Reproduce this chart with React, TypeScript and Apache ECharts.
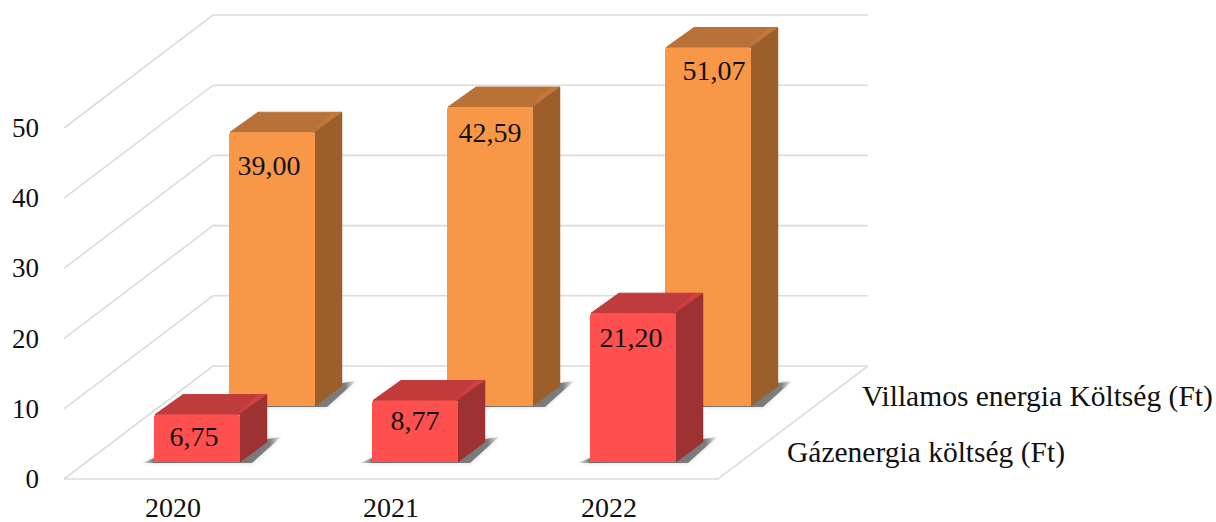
import React, { useEffect, useRef } from "react";
import * as echarts from "echarts";

const categories = ["2020", "2021", "2022"];
const gasCost = [6.75, 8.77, 21.2];
const electricCost = [39.0, 42.59, 51.07];
const yTicks = [0, 10, 20, 30, 40, 50];
const depthLabels = ["Villamos energia Költség (Ft)", "Gázenergia költség (Ft)"];

const SERIF = '"Liberation Serif", "Times New Roman", serif';
const GRID_COLOR = "#DCDCDC";
const TEXT = "#111111";
const BACK = { dx: 150, dy: -113 };
const BAR_W = 86;
const BAR_DX = 27;
const BAR_DY = -20;

type Row = {
  shift: [number, number];
  front: string; top: string; side: string; edge: string;
  nudge: [number, number][];
};
const redRow: Row = {
  shift: [24, -17], front: "#FF5050", top: "#C03B3B", side: "#9E3131", edge: "#D64444",
  nudge: [[-3, 22], [0, 20], [-2, 24]],
};
const orangeRow: Row = {
  shift: [99, -73], front: "#F99748", top: "#B87238", side: "#9C5F2C", edge: "#C87C3C",
  nudge: [[-3, 33], [0, 25], [6, 23]],
};

function frameItem(params: any, api: any) {
  const cs = params.coordSys;
  const tick = api.value(1);
  const y = api.coord([0, tick])[1];
  const x0 = cs.x;
  const x1 = cs.x + cs.width;
  const bx = x0 + BACK.dx - 1;
  const by = y + BACK.dy;
  const lineStyle = { stroke: GRID_COLOR, lineWidth: 1.6, fill: "none" };
  const children: any[] = [
    { type: "polyline", shape: { points: [[x0, y], [bx, by], [x1 + BACK.dx, by]] }, style: lineStyle },
  ];
  if (tick === 0) {
    children.push({
      type: "polyline",
      shape: { points: [[x0, y], [x1, y], [x1 + BACK.dx, by]] },
      style: lineStyle,
    });
  }
  return { type: "group", children };
}

function barRenderer(row: Row) {
  return (params: any, api: any) => {
    const i = api.value(0);
    const v = api.value(1);
    const base = api.coord([i, 0]);
    const head = api.coord([i, v]);
    const l = base[0] + row.shift[0] - BAR_W / 2;
    const r = l + BAR_W;
    const b = base[1] + row.shift[1];
    const t = head[1] + row.shift[1];
    const n = row.nudge[params.dataIndex];
    const shadowFill = new echarts.graphic.LinearGradient(0, 0, 1, 0, [
      { offset: 0, color: "rgba(120,120,120,0.1)" },
      { offset: 0.09, color: "rgba(90,90,90,0.85)" },
      { offset: 0.92, color: "rgba(100,100,100,0.8)" },
      { offset: 1, color: "rgba(150,150,150,0.15)" },
    ]);
    return {
      type: "group",
      children: [
        {
          type: "polygon",
          shape: {
            points: [
              [l - 12, b + 1], [l, b - 4], [r + BAR_DX, b - 23],
              [r + BAR_DX + 14, b - 25], [r + 12, b + 1],
            ],
          },
          style: { fill: shadowFill, shadowBlur: 4, shadowColor: "rgba(150,150,150,0.5)" },
        },
        {
          type: "polygon",
          shape: { points: [[l + 1, t], [r, t], [r + BAR_DX, t + BAR_DY], [l + BAR_DX + 2, t + BAR_DY]] },
          style: { fill: row.top, stroke: row.top, lineWidth: 1, lineJoin: "round" },
        },
        {
          type: "polygon",
          shape: { points: [[r, t], [r + BAR_DX, t + BAR_DY], [r + BAR_DX, b + BAR_DY], [r, b]] },
          style: { fill: row.side, stroke: row.side, lineWidth: 0.5 },
        },
        {
          type: "polygon",
          shape: { points: [[r - 3, t - 1], [r + BAR_DX, t + BAR_DY], [r + BAR_DX - 9, t + BAR_DY]] },
          style: { fill: row.edge, opacity: 0.75 },
        },
        {
          type: "rect",
          shape: { x: l, y: t, width: BAR_W, height: b - t, r: [3, 3, 0, 0] },
          style: { fill: row.front },
        },
        {
          type: "text",
          style: {
            text: v.toFixed(2).replace(".", ","),
            x: (l + r) / 2 + n[0],
            y: t + n[1],
            align: "center",
            verticalAlign: "middle",
            fill: TEXT,
            fontFamily: SERIF,
            fontSize: 28,
          },
        },
      ],
    };
  };
}

export default function App() {
  const ref = useRef<HTMLDivElement>(null);
  useEffect(() => {
    const chart = echarts.init(ref.current!, undefined, { renderer: "svg" });
    chart.setOption({
      animation: false,
      backgroundColor: "#FFFFFF",
      grid: { left: 64, top: 128, width: 654, height: 351, containLabel: false, outerBoundsMode: "none" },
      xAxis: {
        type: "category",
        data: categories,
        axisLine: { show: false },
        axisTick: { show: false },
        axisLabel: { color: TEXT, fontFamily: SERIF, fontSize: 28, margin: 14, lineHeight: 28 },
      },
      yAxis: {
        type: "value",
        min: 0,
        max: 50,
        interval: 10,
        axisLine: { show: false },
        axisTick: { show: false },
        splitLine: { show: false },
        axisLabel: { color: TEXT, fontFamily: SERIF, fontSize: 27, margin: 25 },
      },
      graphic: [
        {
          type: "text", x: 862, y: 396,
          style: { text: depthLabels[0], fill: TEXT, fontFamily: SERIF, fontSize: 29.5, align: "left", verticalAlign: "middle" },
        },
        {
          type: "text", x: 787, y: 452,
          style: { text: depthLabels[1], fill: TEXT, fontFamily: SERIF, fontSize: 29.5, align: "left", verticalAlign: "middle" },
        },
      ],
      series: [
        {
          type: "custom", name: "frame", z: 1, silent: true,
          data: yTicks.map((t) => [0, t]),
          encode: { x: 0, y: 1 },
          renderItem: frameItem,
        },
        {
          type: "custom", name: depthLabels[0], z: 2,
          data: electricCost.map((v, i) => [i, v]),
          encode: { x: 0, y: 1 },
          renderItem: barRenderer(orangeRow),
        },
        {
          type: "custom", name: depthLabels[1], z: 3,
          data: gasCost.map((v, i) => [i, v]),
          encode: { x: 0, y: 1 },
          renderItem: barRenderer(redRow),
        },
      ],
    });
    return () => chart.dispose();
  }, []);
  return <div ref={ref} style={{ position: "fixed", left: 0, top: 0, width: 1216, height: 522 }} />;
}
